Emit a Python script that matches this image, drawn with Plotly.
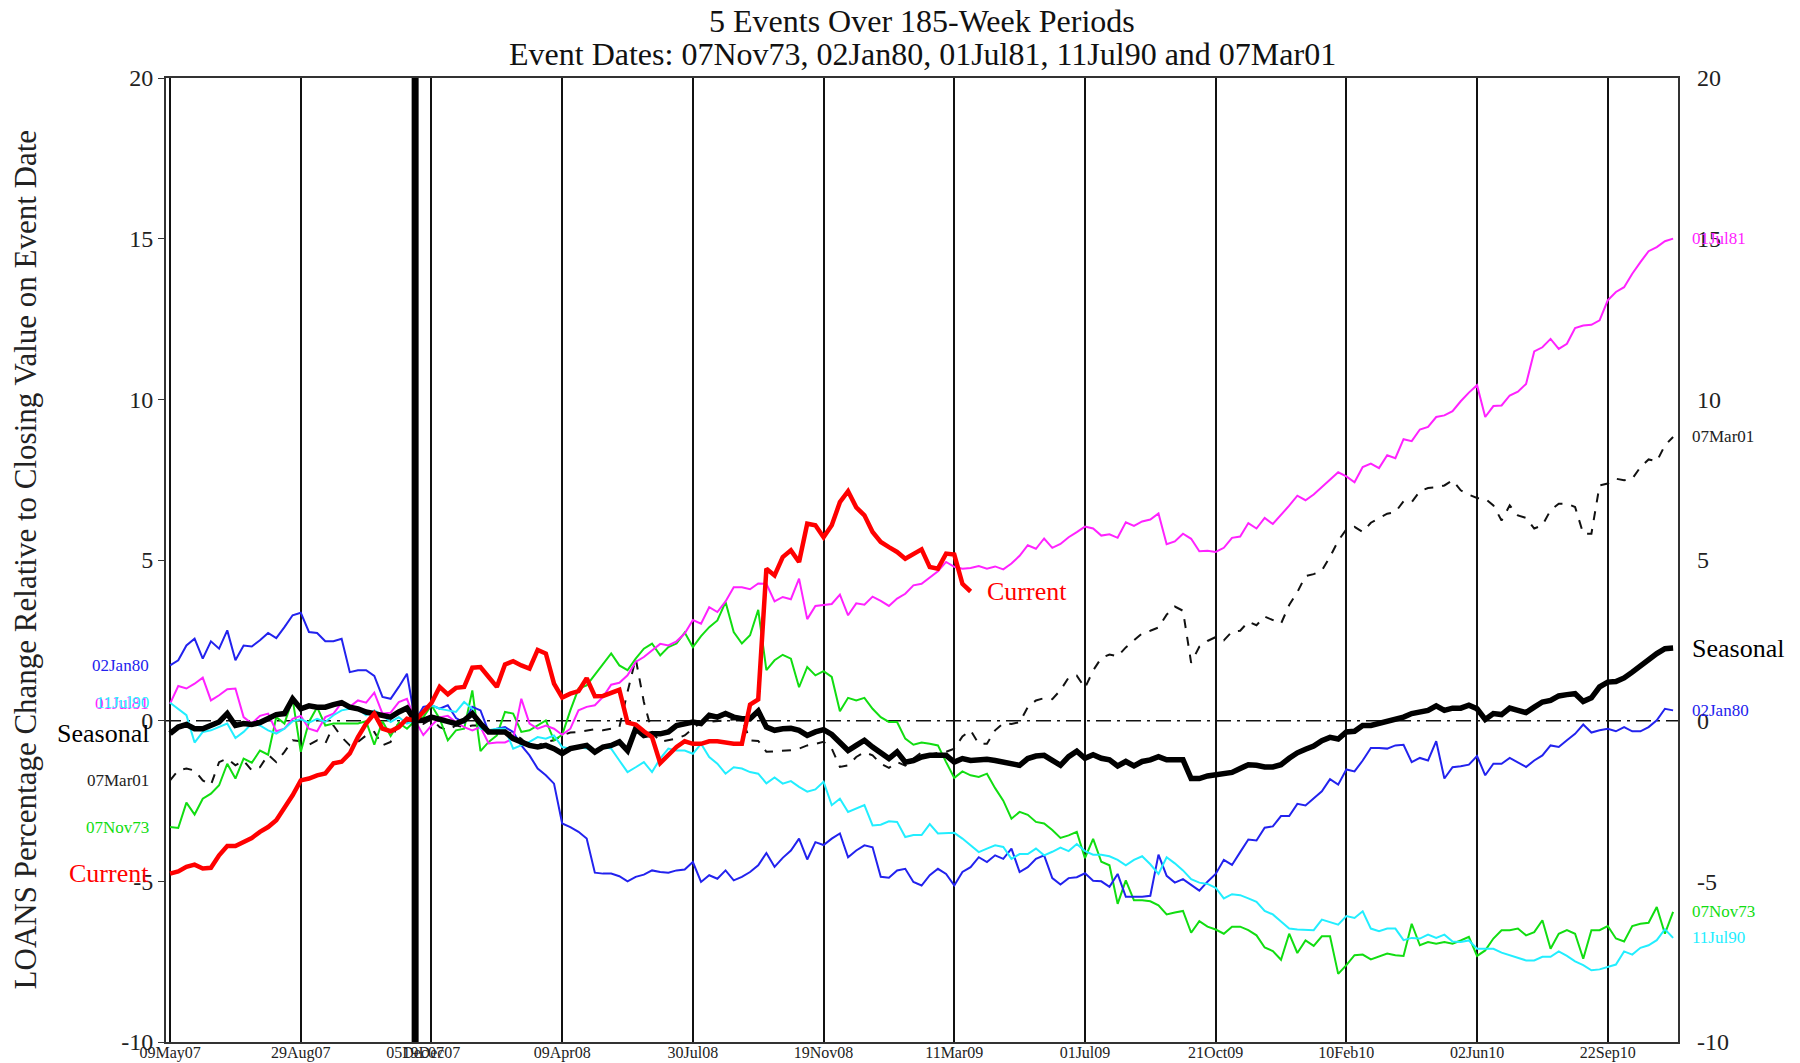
import plotly.graph_objects as go

# ---------------- data ----------------
WEEKS = list(range(185))
EVENT_WEEK = 30

TICK_WEEKS = [0, 16, 30, 32, 48, 64, 80, 96, 112, 128, 144, 160, 176]
TICK_TEXT = ["09May07", "29Aug07", "05Dec07", "19Dec07", "09Apr08", "30Jul08",
             "19Nov08", "11Mar09", "01Jul09", "21Oct09", "10Feb10", "02Jun10", "22Sep10"]
Y_TICKS = [-10, -5, 0, 5, 10, 15, 20]
Y_TICK_TEXT = ["-10", "-5", "0", "5", "10", "15", "20"]

TITLE_LINES = ["5 Events Over 185-Week Periods",
               "Event Dates: 07Nov73, 02Jan80, 01Jul81, 11Jul90 and 07Mar01"]
Y_TITLE = "LOANS Percentage Change Relative to Closing Value on Event Date"

SEASONAL = [
    -0.40, -0.20, -0.12, -0.25, -0.25, -0.15, -0.04, 0.22, -0.15, -0.09,
    -0.12, -0.06, 0.06, 0.19, 0.22, 0.68, 0.37, 0.46, 0.42, 0.42,
    0.50, 0.56, 0.42, 0.37, 0.27, 0.22, 0.17, 0.11, 0.27, 0.39,
    0.00, 0.01, 0.11, 0.04, -0.02, -0.09, 0.01, 0.22, -0.09, -0.35,
    -0.35, -0.35, -0.56, -0.66, -0.77, -0.82, -0.77, -0.87, -1.02, -0.87,
    -0.82, -0.77, -0.98, -0.82, -0.77, -0.66, -0.93, -0.25, -0.46, -0.41,
    -0.41, -0.35, -0.15, -0.09, -0.04, -0.09, 0.17, 0.11, 0.22, 0.11,
    0.06, 0.06, 0.30, -0.20, -0.30, -0.25, -0.24, -0.30, -0.46, -0.35,
    -0.28, -0.43, -0.66, -0.93, -0.77, -0.61, -0.82, -1.02, -1.18, -0.97,
    -1.29, -1.24, -1.13, -1.08, -1.06, -1.08, -1.29, -1.18, -1.24, -1.21,
    -1.20, -1.24, -1.29, -1.34, -1.39, -1.18, -1.10, -1.08, -1.22, -1.39,
    -1.12, -0.95, -1.17, -1.06, -1.17, -1.22, -1.41, -1.27, -1.41, -1.27,
    -1.22, -1.12, -1.22, -1.22, -1.22, -1.80, -1.80, -1.72, -1.69, -1.66,
    -1.61, -1.49, -1.37, -1.39, -1.44, -1.44, -1.37, -1.17, -1.00, -0.89,
    -0.79, -0.62, -0.52, -0.57, -0.35, -0.33, -0.15, -0.15, -0.09, 0.01,
    0.06, 0.11, 0.22, 0.29, 0.32, 0.46, 0.32, 0.39, 0.39, 0.48,
    0.37, 0.04, 0.22, 0.19, 0.39, 0.32, 0.25, 0.42, 0.58, 0.63,
    0.77, 0.81, 0.84, 0.60, 0.71, 1.05, 1.20, 1.22, 1.33, 1.51,
    1.72, 1.93, 2.09, 2.24, 2.26,
]

CURRENT = [
    -4.76, -4.69, -4.55, -4.48, -4.60, -4.58, -4.19, -3.90, -3.90, -3.78,
    -3.65, -3.46, -3.31, -3.10, -2.74, -2.32, -1.86, -1.80, -1.70, -1.64,
    -1.33, -1.28, -1.02, -0.51, -0.09, 0.22, -0.25, -0.33, -0.20, 0.06,
    0.00, 0.27, 0.55, 1.05, 0.82, 1.02, 1.05, 1.65, 1.67, 1.36,
    1.05, 1.75, 1.85, 1.72, 1.62, 2.20, 2.09, 1.15, 0.72, 0.84,
    0.92, 1.32, 0.76, 0.77, 0.87, 0.96, -0.06, -0.12, -0.33, -0.51,
    -1.32, -1.08, -0.82, -0.64, -0.72, -0.72, -0.64, -0.64, -0.69, -0.72,
    -0.72, 0.50, 0.66, 4.73, 4.52, 5.09, 5.30, 4.94, 6.13, 6.08,
    5.71, 6.08, 6.80, 7.14, 6.64, 6.39, 5.87, 5.56, 5.40, 5.25,
    5.04, 5.20, 5.33, 4.78, 4.73, 5.20, 5.17, 4.26, 4.02,
]

EV_02JAN80 = [
    1.72, 1.88, 2.34, 2.55, 1.93, 2.47, 2.24, 2.81, 1.88, 2.34,
    2.31, 2.50, 2.73, 2.57, 2.91, 3.28, 3.36, 2.76, 2.73, 2.47,
    2.47, 2.55, 1.51, 1.57, 1.57, 1.39, 0.74, 0.68, 1.05, 1.46,
    0.00, 0.43, 0.48, 0.37, 0.48, 0.08, -0.06, 0.43, 0.32, -0.35,
    -0.25, -0.20, -0.35, -0.77, -1.08, -1.49, -1.70, -1.96, -3.20, -3.31,
    -3.46, -3.67, -4.73, -4.76, -4.76, -4.84, -5.00, -4.86, -4.79, -4.66,
    -4.71, -4.73, -4.66, -4.63, -4.40, -5.02, -4.81, -4.92, -4.66, -4.97,
    -4.86, -4.71, -4.50, -4.12, -4.55, -4.27, -4.04, -3.67, -4.32, -3.78,
    -3.87, -3.67, -3.51, -4.25, -4.04, -3.88, -3.94, -4.86, -4.89, -4.66,
    -4.61, -5.02, -5.13, -4.81, -4.61, -4.77, -5.13, -4.71, -4.56, -4.25,
    -4.40, -4.19, -4.30, -3.98, -4.71, -4.56, -4.30, -4.19, -4.90, -5.10,
    -4.90, -4.87, -4.75, -4.98, -5.00, -5.17, -4.77, -5.48, -5.48, -5.48,
    -5.45, -4.17, -4.83, -5.04, -4.93, -5.11, -5.29, -5.01, -4.77, -4.33,
    -4.49, -4.09, -3.70, -3.73, -3.33, -3.29, -2.97, -2.97, -2.59, -2.64,
    -2.42, -2.20, -1.82, -1.99, -1.52, -1.58, -1.24, -0.85, -0.85, -0.87,
    -0.77, -0.75, -1.29, -1.16, -1.24, -0.64, -1.80, -1.45, -1.42, -1.37,
    -1.10, -1.70, -1.34, -1.34, -1.16, -1.29, -1.44, -1.24, -1.08, -0.77,
    -0.82, -0.61, -0.41, -0.12, -0.37, -0.30, -0.25, -0.33, -0.20, -0.33,
    -0.33, -0.20, 0.01, 0.37, 0.32,
]

EV_01JUL81 = [
    0.53, 1.08, 1.00, 1.15, 1.34, 0.63, 0.79, 0.98, 1.00, 0.11,
    -0.09, 0.15, 0.22, -0.33, -0.25, 0.06, 0.15, -0.25, -0.33, 0.11,
    0.22, 0.56, 0.43, 0.63, 0.56, 0.87, 0.22, 0.25, 0.58, 0.68,
    0.00, -0.45, -0.15, 0.10, 0.15, -0.05, -0.20, -0.30, -0.20, -0.71,
    -0.68, -0.68, -0.56, 0.68, -0.09, -0.25, -0.15, -0.25, -0.44, -0.25,
    0.32, 0.43, 0.48, 0.74, 1.12, 1.18, 1.41, 1.83, 1.98, 2.19,
    2.39, 2.34, 2.47, 2.71, 3.13, 3.02, 3.53, 3.38, 3.71, 4.15,
    4.15, 4.09, 4.27, 4.26, 3.71, 3.85, 3.78, 4.42, 3.16, 3.57,
    3.60, 3.63, 3.92, 3.28, 3.65, 3.61, 3.86, 3.73, 3.57, 3.80,
    3.95, 4.21, 4.26, 4.47, 4.65, 4.94, 4.79, 4.73, 4.75, 4.81,
    4.73, 4.80, 4.71, 4.89, 5.13, 5.46, 5.35, 5.67, 5.38, 5.50,
    5.71, 5.87, 6.04, 5.98, 5.76, 5.80, 5.69, 6.17, 6.06, 6.20,
    6.26, 6.45, 5.49, 5.58, 5.82, 5.66, 5.27, 5.29, 5.25, 5.38,
    5.69, 5.73, 6.15, 5.98, 6.31, 6.12, 6.39, 6.69, 7.00, 6.86,
    7.04, 7.26, 7.51, 7.73, 7.60, 7.42, 7.89, 8.00, 7.86, 8.26,
    8.17, 8.76, 8.70, 9.06, 9.14, 9.45, 9.50, 9.63, 9.94, 10.21,
    10.44, 9.45, 9.79, 9.81, 10.12, 10.24, 10.48, 11.49, 11.62, 11.88,
    11.57, 11.73, 12.22, 12.30, 12.32, 12.46, 13.08, 13.34, 13.49, 13.91,
    14.27, 14.61, 14.74, 14.92, 15.00,
]

EV_11JUL90 = [
    0.56, 0.37, 0.17, -0.68, -0.35, -0.30, -0.20, -0.09, -0.54, -0.35,
    -0.09, -0.15, -0.30, -0.40, -0.25, -0.02, 0.04, -0.06, 0.06, -0.04,
    0.17, 0.32, 0.37, 0.37, 0.17, 0.32, 0.17, -0.04, 0.11, -0.09,
    0.00, 0.27, 0.48, 0.37, 0.32, 0.27, 0.58, 0.37, -0.25, -0.30,
    -0.25, -0.25, -0.87, -0.77, -0.66, -0.51, -0.56, -0.46, -0.82, -0.87,
    -0.82, -0.87, -0.93, -0.82, -0.87, -1.24, -1.60, -1.45, -1.29, -1.60,
    -1.18, -0.87, -0.93, -0.93, -1.03, -0.72, -1.13, -1.34, -1.65, -1.45,
    -1.49, -1.60, -1.65, -1.95, -1.77, -1.96, -1.88, -2.06, -2.21, -2.14,
    -1.90, -2.63, -2.43, -2.84, -2.74, -2.63, -3.26, -3.24, -3.13, -3.15,
    -3.62, -3.56, -3.56, -3.22, -3.51, -3.51, -3.49, -3.67, -3.88, -4.09,
    -3.98, -3.88, -3.93, -4.30, -4.15, -4.15, -3.98, -4.19, -4.08, -3.95,
    -4.06, -3.84, -4.06, -4.17, -4.17, -4.22, -4.33, -4.50, -4.33, -4.22,
    -4.47, -4.77, -4.25, -4.44, -4.66, -4.93, -5.04, -5.08, -5.20, -5.53,
    -5.40, -5.43, -5.53, -5.64, -5.92, -6.03, -6.25, -6.47, -6.50, -6.52,
    -6.52, -6.19, -6.28, -6.35, -6.08, -6.14, -5.93, -6.47, -6.55, -6.47,
    -6.47, -6.83, -6.76, -6.78, -6.66, -6.76, -6.66, -6.87, -6.89, -6.84,
    -7.10, -7.10, -7.10, -7.22, -7.30, -7.39, -7.46, -7.46, -7.35, -7.35,
    -7.18, -7.32, -7.49, -7.61, -7.77, -7.74, -7.66, -7.59, -7.18, -7.28,
    -7.07, -6.99, -6.83, -6.49, -6.76,
]

EV_07NOV73 = [
    -3.31, -3.34, -2.55, -2.92, -2.43, -2.27, -2.01, -1.34, -1.80, -1.18,
    -1.31, -0.93, -1.06, 0.11, -0.09, 0.68, -0.97, -0.04, 0.42, -0.15,
    -0.09, -0.09, -0.09, -0.09, -0.02, -0.75, -0.02, -0.48, -0.06, -0.25,
    0.00, 0.11, 0.48, 0.06, -0.61, -0.30, -0.25, 0.94, -0.95, -0.66,
    -0.46, 0.27, 0.22, -0.35, -0.30, -0.15, 0.01, -0.61, -0.44, 0.32,
    1.00, 1.10, 1.43, 1.77, 2.09, 1.72, 1.57, 1.93, 2.24, 2.40,
    2.03, 2.29, 2.40, 2.74, 2.29, 2.63, 2.91, 3.12, 3.69, 2.76,
    2.40, 2.66, 3.45, 1.57, 1.88, 2.05, 1.93, 1.04, 1.67, 1.41,
    1.54, 1.36, 0.29, 0.71, 0.63, 0.71, 0.37, 0.11, -0.04, -0.04,
    -0.56, -0.75, -0.68, -0.72, -0.77, -1.29, -1.78, -1.58, -1.70, -1.75,
    -1.65, -2.10, -2.49, -3.05, -2.84, -2.93, -3.15, -3.20, -3.40, -3.65,
    -3.57, -3.46, -4.28, -3.68, -4.39, -4.50, -5.70, -4.97, -5.59, -5.59,
    -5.62, -5.75, -6.03, -5.97, -5.92, -6.60, -6.24, -6.41, -6.50, -6.63,
    -6.41, -6.41, -6.52, -6.68, -7.06, -7.17, -7.44, -6.63, -7.23, -6.84,
    -7.01, -6.71, -6.71, -7.88, -7.61, -7.30, -7.28, -7.43, -7.35, -7.25,
    -7.30, -7.32, -6.32, -6.99, -6.89, -6.94, -6.89, -6.94, -6.84, -6.73,
    -7.32, -7.15, -6.78, -6.52, -6.52, -6.47, -6.68, -6.58, -6.21, -7.10,
    -6.63, -6.52, -6.63, -7.41, -6.52, -6.52, -6.39, -6.78, -6.87, -6.39,
    -6.32, -6.29, -5.80, -6.63, -5.95,
]

EV_07MAR01 = [
    -1.86, -1.55, -1.49, -1.55, -1.86, -2.00, -1.29, -1.18, -1.39, -1.24,
    -1.55, -1.45, -1.06, -1.29, -0.97, -0.61, -0.64, -0.75, -0.61, -0.71,
    -0.15, -0.51, -0.77, -0.66, -0.46, -0.35, -0.77, -0.66, -0.04, -0.06,
    0.00, -0.10, 0.05, -0.20, -0.30, -0.15, -0.20, -0.15, -0.15, -0.35,
    -0.25, -0.35, -0.40, -0.56, -0.82, -0.77, -0.66, -0.61, -0.46, -0.37,
    -0.35, -0.30, -0.27, -0.30, -0.25, -0.20, 0.89, 1.93, 0.58, -0.35,
    -0.66, -0.61, -0.56, -0.46, -0.25, -0.04, -0.04, -0.02, 0.01, 0.04,
    0.06, -0.61, -0.63, -0.97, -0.95, -0.92, -0.92, -0.87, -0.77, -0.72,
    -0.66, -0.87, -1.44, -1.39, -1.13, -0.98, -1.08, -1.34, -1.47, -1.29,
    -1.40, -1.18, -0.98, -1.06, -1.00, -0.97, -0.87, -0.49, -0.30, -0.72,
    -0.72, -0.30, -0.08, -0.10, -0.05, 0.42, 0.63, 0.70, 0.67, 0.95,
    1.34, 1.40, 1.02, 1.56, 1.95, 2.06, 2.00, 2.28, 2.50, 2.72,
    2.80, 2.90, 3.30, 3.55, 3.42, 1.80, 2.30, 2.48, 2.60, 2.50,
    2.77, 2.80, 3.08, 2.97, 3.24, 3.13, 3.02, 3.60, 4.00, 4.50,
    4.56, 4.67, 5.10, 5.60, 5.95, 6.03, 5.87, 6.16, 6.29, 6.44,
    6.49, 6.83, 6.80, 7.14, 7.24, 7.26, 7.32, 7.48, 7.17, 7.03,
    6.93, 6.91, 6.70, 6.23, 6.70, 6.39, 6.31, 5.98, 6.08, 6.55,
    6.75, 6.75, 6.65, 5.82, 5.82, 7.32, 7.38, 7.53, 7.48, 7.53,
    7.89, 8.13, 8.07, 8.57, 8.83,
]

# ---------------- styling ----------------
FONT = "Liberation Serif"
SERIES = [
    # name, values, colour, width, dash, label size
    ("07Mar01", EV_07MAR01, "#111111", 2, "dash", 17),
    ("07Nov73", EV_07NOV73, "#11DD11", 2, "solid", 17),
    ("02Jan80", EV_02JAN80, "#2222EE", 2, "solid", 17),
    ("01Jul81", EV_01JUL81, "#FF22FF", 2, "solid", 17),
    ("11Jul90", EV_11JUL90, "#22EEFF", 2, "solid", 17),
    ("Seasonal", SEASONAL, "#000000", 5.5, "solid", 26),
    ("Current", CURRENT, "#FF0000", 4.5, "solid", 26),
]

fig = go.Figure()
annotations = []
for name, vals, color, width, dash, lsize in SERIES:
    xs = WEEKS[:len(vals)]
    fig.add_trace(go.Scatter(x=xs, y=vals, mode="lines", name=name,
                             line=dict(color=color, width=width, dash=dash),
                             showlegend=False))
    lab_color = "#222222" if color == "#111111" else color
    annotations.append(dict(x=xs[0], y=vals[0], xref="x", yref="y", text=name,
                            showarrow=False, xanchor="right", yanchor="middle",
                            xshift=-19, font=dict(family=FONT, size=lsize, color=lab_color)))
    annotations.append(dict(x=xs[-1], y=vals[-1], xref="x", yref="y", text=name,
                            showarrow=False, xanchor="left", yanchor="middle",
                            xshift=14 if len(vals) < len(WEEKS) else 17,
                            font=dict(family=FONT, size=lsize, color=lab_color)))

# transparent copy on the right-hand axis so that its tick labels are drawn
fig.add_trace(go.Scatter(x=WEEKS, y=SEASONAL, yaxis="y2", mode="lines",
                         line=dict(width=0, color="rgba(0,0,0,0)"),
                         showlegend=False, hoverinfo="skip"))

# title lines (positioned relative to the plot top) and y-axis title
annotations.append(dict(x=0.5, y=1, xref="paper", yref="paper",
                        text=TITLE_LINES[0], showarrow=False, xanchor="center",
                        yanchor="middle", yshift=57,
                        font=dict(family=FONT, size=32, color="#111111")))
annotations.append(dict(x=0.5, y=1, xref="paper", yref="paper",
                        text=TITLE_LINES[1], showarrow=False, xanchor="center",
                        yanchor="middle", yshift=24,
                        font=dict(family=FONT, size=32, color="#111111")))
annotations.append(dict(x=-0.093, y=0.5, xref="paper", yref="paper",
                        text=Y_TITLE, textangle=-90, showarrow=False,
                        xanchor="center", yanchor="middle",
                        font=dict(family=FONT, size=31, color="#222222")))

shapes = [
    dict(type="line", xref="paper", yref="y", x0=0, x1=1, y0=0, y1=0,
         line=dict(color="#111111", width=1.5, dash="longdashdot"), layer="below"),
    dict(type="line", xref="x", yref="paper", x0=EVENT_WEEK, x1=EVENT_WEEK, y0=0, y1=1,
         line=dict(color="#000000", width=7), layer="above"),
]

axis_common = dict(showline=True, linecolor="#333333", linewidth=2, mirror=True,
                   zeroline=False)

fig.update_layout(
    width=1800, height=1063,
    margin=dict(l=166, r=122, t=78, b=21, autoexpand=False),
    paper_bgcolor="white", plot_bgcolor="white",
    xaxis=dict(range=[-0.5, 184.6], tickmode="array", tickvals=TICK_WEEKS,
               ticktext=TICK_TEXT, showgrid=True, gridcolor="#111111", gridwidth=1.5,
               ticks="", tickangle=0, automargin=False, ticklabelstandoff=-5,
               tickfont=dict(family=FONT, size=16, color="#222222"), **axis_common),
    yaxis=dict(range=[-10, 20], tickmode="array", tickvals=Y_TICKS, ticktext=Y_TICK_TEXT,
               showgrid=False, ticks="outside", ticklen=6, tickcolor="#333333",
               automargin=False,
               tickfont=dict(family=FONT, size=24, color="#222222"), **axis_common),
    yaxis2=dict(range=[-10, 20], tickmode="array", tickvals=Y_TICKS, ticktext=Y_TICK_TEXT,
                showgrid=False, overlaying="y", side="right", ticks="",
                ticklabelstandoff=18, showline=False, zeroline=False, automargin=False,
                tickfont=dict(family=FONT, size=24, color="#222222")),
    annotations=annotations,
    shapes=shapes,
    hovermode=False,
)

fig.write_html("out.html", config={"displayModeBar": False},
               post_script="document.body.style.margin='0';")
